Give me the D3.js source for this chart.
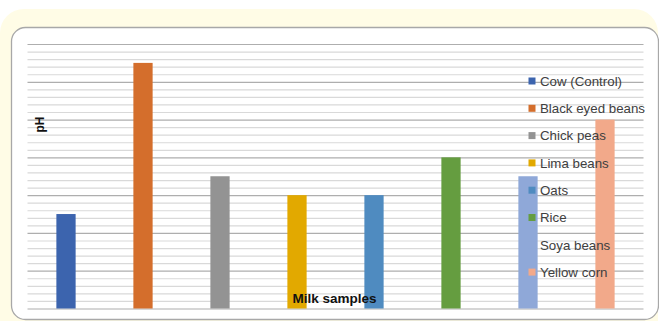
<!DOCTYPE html>
<html>
<head>
<meta charset="utf-8">
<script src="https://cdn.jsdelivr.net/npm/d3@7"></script>
<style>
  html, body { margin: 0; padding: 0; background: #ffffff; }
  svg { display: block; }
</style>
</head>
<body>
<svg id="chart" width="659" height="321"></svg>
<script>
// ---- data ----
const categories = ["Cow (Control)", "Black eyed beans", "Chick peas", "Lima beans", "Oats", "Rice", "Soya beans", "Yellow corn"];
const phValues = [2.5, 6.5, 3.5, 3.0, 3.0, 4.0, 3.5, 5.0];
const colors = ["#3C64AE", "#D46E2C", "#939393", "#E2A900", "#4F8BC0", "#659D40", "#8FA8D8", "#F2A98A"];
const yDomain = [0, 7];
const majorStep = 1;
const minorStep = 0.2;
const xTitle = "Milk samples";
const yTitle = "pH";

// ---- layout ----
const W = 659, H = 321;
const plot = { left: 27.5, right: 643.5, top: 44, bottom: 308.5 };
const svg = d3.select("#chart");

// background frame
svg.append("rect").attr("x", 0).attr("y", 9).attr("width", 658).attr("height", 360)
  .attr("rx", 24).attr("fill", "#FFFCE6");
svg.append("rect").attr("x", 11.5).attr("y", 27.5).attr("width", 647).attr("height", 292)
  .attr("rx", 14).attr("fill", "#ffffff").attr("stroke", "#A8A8A8").attr("stroke-width", 1.3);

// scales
const x = d3.scaleBand().domain(categories)
  .range([plot.left, plot.right]).paddingInner(0.75).paddingOuter(0.375);
const y = d3.scaleLinear().domain(yDomain).range([plot.bottom, plot.top]);

const nMinor = Math.round((yDomain[1] - yDomain[0]) / minorStep);
const minorTicks = d3.range(nMinor + 1).map(i => yDomain[0] + i * minorStep)
  .filter(v => Math.abs(v / majorStep - Math.round(v / majorStep)) > 1e-6);
const majorTicks = d3.range(yDomain[0], yDomain[1] + 1e-9, majorStep);

// minor gridlines
const gMinor = svg.append("g").attr("transform", `translate(${plot.left},0)`)
  .call(d3.axisLeft(y).tickValues(minorTicks).tickSize(-(plot.right - plot.left)).tickFormat(""));
gMinor.select(".domain").remove();
gMinor.selectAll("line").attr("stroke", "#D9D9D9").attr("stroke-width", 1.2);

// major gridlines
const gMajor = svg.append("g").attr("transform", `translate(${plot.left},0)`)
  .call(d3.axisLeft(y).tickValues(majorTicks).tickSize(-(plot.right - plot.left)).tickFormat(""));
gMajor.select(".domain").remove();
gMajor.selectAll("line").attr("stroke", "#AEAEAE").attr("stroke-width", 1.2);

// bars
svg.append("g").selectAll("rect").data(categories).join("rect")
  .attr("x", d => x(d))
  .attr("width", x.bandwidth())
  .attr("y", (d, i) => y(phValues[i]))
  .attr("height", (d, i) => y(0) - y(phValues[i]))
  .attr("fill", (d, i) => colors[i]);

// legend
const legX = 528.5, legY0 = 81, legStep = 27.3;
const leg = svg.append("g").selectAll("g").data(categories).join("g")
  .attr("transform", (d, i) => `translate(${legX},${legY0 + i * legStep})`);
leg.append("rect").attr("x", 0).attr("y", -3.5).attr("width", 7).attr("height", 7)
  .attr("fill", (d, i) => colors[i]);
leg.append("text").attr("x", 11.5).attr("y", 0).attr("dy", "0.36em")
  .attr("font-family", "Liberation Sans, Arial, sans-serif").attr("font-size", 13.3)
  .attr("fill", "#404040").text(d => d);

// axis titles
svg.append("text").attr("x", 334.5).attr("y", 302.5).attr("text-anchor", "middle")
  .attr("font-family", "Liberation Sans, Arial, sans-serif").attr("font-weight", "bold")
  .attr("font-size", 13.5).attr("fill", "#111").text(xTitle);
svg.append("text").attr("transform", "translate(39.5,124.5) rotate(-90)").attr("text-anchor", "middle")
  .attr("dy", "0.36em")
  .attr("font-family", "Liberation Sans, Arial, sans-serif").attr("font-weight", "bold")
  .attr("font-size", 12).attr("fill", "#111").text(yTitle);
</script>
</body>
</html>
